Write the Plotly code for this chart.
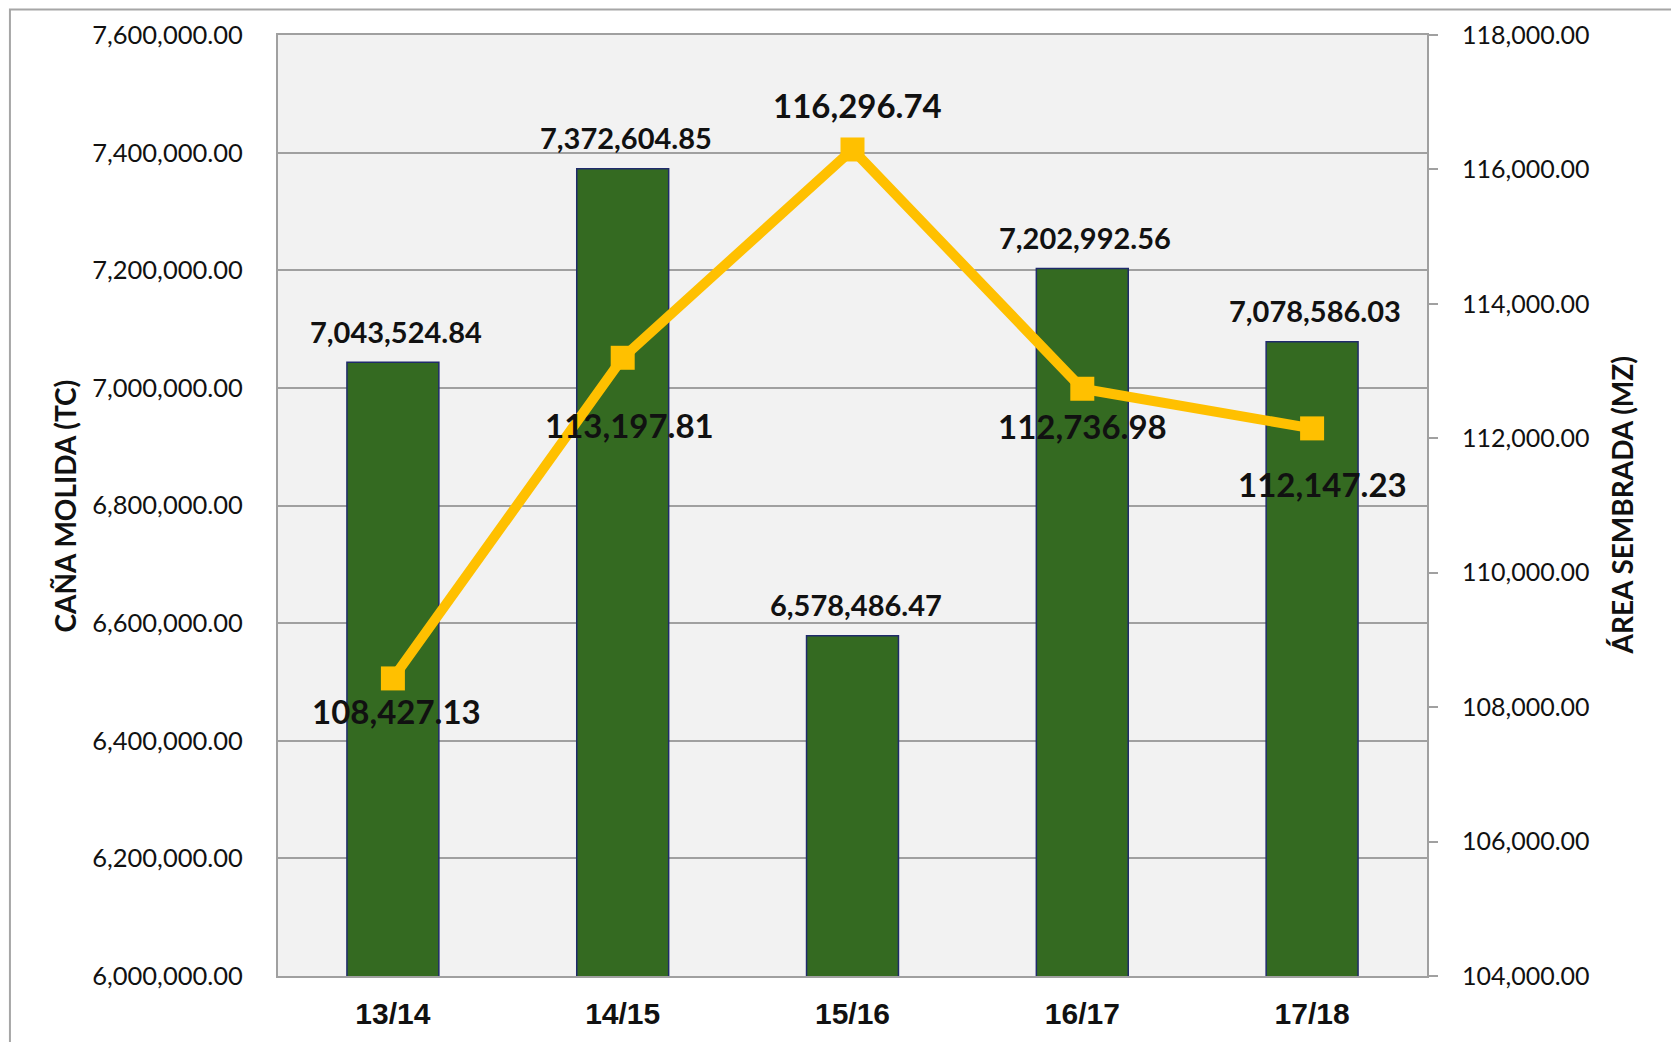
import plotly.graph_objects as go

categories = ["13/14", "14/15", "15/16", "16/17", "17/18"]
cana_molida = [7043524.84, 7372604.85, 6578486.47, 7202992.56, 7078586.03]
area_sembrada = [108427.13, 113197.81, 116296.74, 112736.98, 112147.23]

left_ticks = [6000000 + 200000 * i for i in range(9)]
right_ticks = [104000 + 2000 * i for i in range(8)]

# label offsets (pixels) – style only
bar_label_shift = [31, 31, 31, 31, 31]
line_label_yshift = [-33, -67, 44, -37, -56]
line_label_xshift = [4, 7, 5, 0, 10]

GRID = "#A0A0A0"
fig = go.Figure()
fig.add_trace(go.Bar(
    x=categories, y=cana_molida, yaxis="y",
    marker=dict(color="#346A21", line=dict(color="#1F2A6B", width=1.5)),
    width=0.4, showlegend=False, hoverinfo="skip",
))
fig.add_trace(go.Scatter(
    x=categories, y=area_sembrada, yaxis="y2", mode="lines+markers",
    line=dict(color="#FFC000", width=10),
    marker=dict(symbol="square", size=24, color="#FFC000"),
    showlegend=False, hoverinfo="skip",
))

annotations = []
for c, v, s in zip(categories, cana_molida, bar_label_shift):
    annotations.append(dict(x=c, y=v, xref="x", yref="y", text=f"{v:,.2f}",
                            showarrow=False, yanchor="middle", yshift=s, xshift=3,
                            font=dict(family="Lato", size=29, color="#111111", weight="bold")))
for c, v, ys, xs in zip(categories, area_sembrada, line_label_yshift, line_label_xshift):
    annotations.append(dict(x=c, y=v, xref="x", yref="y2", text=f"{v:,.2f}",
                            showarrow=False, yanchor="middle", yshift=ys, xshift=xs,
                            font=dict(family="Lato", size=33, color="#111111", weight="bold")))
annotations.append(dict(x=-0.1854, y=0.5, xref="paper", yref="paper", text="CAÑA MOLIDA (TC)",
                        textangle=-90, showarrow=False, xanchor="center", yanchor="middle",
                        font=dict(family="Lato", size=28, color="#111111", weight="bold")))
annotations.append(dict(x=1.1697, y=0.5, xref="paper", yref="paper", text="ÁREA SEMBRADA (MZ)",
                        textangle=-90, showarrow=False, xanchor="center", yanchor="middle",
                        font=dict(family="Lato", size=28, color="#111111", weight="bold")))

fig.update_layout(
    width=1671, height=1034,
    margin=dict(l=270, r=252, t=27, b=66, autoexpand=False),
    paper_bgcolor="white", plot_bgcolor="#F2F2F2",
    bargap=0.6,
    annotations=annotations,
    xaxis=dict(
        type="category", showgrid=False, showline=True, linecolor=GRID, linewidth=2,
        ticks="", ticklabelstandoff=10, automargin=False,
        tickfont=dict(family="Liberation Sans", size=30, color="#111111", weight="bold"),
        mirror=True,
    ),
    yaxis=dict(
        range=[6000000, 7600000], tickvals=left_ticks,
        ticktext=[f"{t:,.2f}" for t in left_ticks],
        showgrid=True, gridcolor=GRID, gridwidth=2,
        showline=True, linecolor=GRID, linewidth=2, ticks="",
        ticklabelstandoff=28, automargin=False,
        tickfont=dict(family="Lato", size=25.5, color="#111111"),
        zeroline=False,
    ),
    yaxis2=dict(
        range=[104000, 118000], tickvals=right_ticks,
        ticktext=[f"{t:,.2f}" for t in right_ticks],
        overlaying="y", side="right", showgrid=False,
        showline=True, linecolor=GRID, linewidth=2,
        ticks="outside", ticklen=9, tickcolor=GRID, tickwidth=2,
        ticklabelstandoff=19, automargin=False,
        tickfont=dict(family="Lato", size=25, color="#111111"),
        zeroline=False,
    ),
    shapes=[dict(type="rect", xref="paper", yref="paper",
                 x0=-0.2333, x1=1.2141, y0=-0.2, y1=1.027,
                 line=dict(color="#A6A6A6", width=2), fillcolor="rgba(0,0,0,0)", layer="below")],
)

fig.write_html("out.html")
